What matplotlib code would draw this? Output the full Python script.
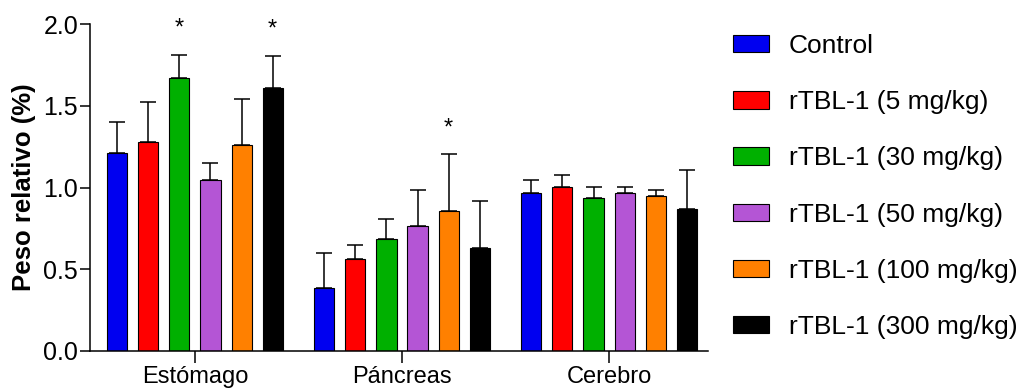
import matplotlib
matplotlib.use("Agg")
import matplotlib.pyplot as plt
import numpy as np

plt.rcParams['font.family'] = ['Liberation Sans', 'DejaVu Sans']

categories = ['Estómago', 'Páncreas', 'Cerebro']
series_labels = ['Control', 'rTBL-1 (5 mg/kg)', 'rTBL-1 (30 mg/kg)',
                 'rTBL-1 (50 mg/kg)', 'rTBL-1 (100 mg/kg)', 'rTBL-1 (300 mg/kg)']
colors = ['#0000F0', '#FF0000', '#00B000', '#B455D5', '#FF8000', '#000000']

control = [1.21, 0.385, 0.965]
tbl5 = [1.28, 0.563, 1.006]
tbl30 = [1.667, 0.687, 0.937]
tbl50 = [1.047, 0.765, 0.967]
tbl100 = [1.258, 0.857, 0.949]
tbl300 = [1.61, 0.632, 0.867]

control_sd = [0.19, 0.215, 0.08]
tbl5_sd = [0.24, 0.085, 0.072]
tbl30_sd = [0.143, 0.121, 0.065]
tbl50_sd = [0.103, 0.217, 0.035]
tbl100_sd = [0.282, 0.345, 0.037]
tbl300_sd = [0.196, 0.288, 0.241]

# (series index, category index) marked with *
significant = [(2, 0), (5, 0), (4, 1)]

yticks = [0.0, 0.5, 1.0, 1.5, 2.0]

means = [control, tbl5, tbl30, tbl50, tbl100, tbl300]
sds = [control_sd, tbl5_sd, tbl30_sd, tbl50_sd, tbl100_sd, tbl300_sd]

fig = plt.figure(figsize=(10.24, 3.92), dpi=100)
ax = fig.add_axes([90/1024, 1 - 351/392, 618/1024, 327/392])

xc = np.arange(len(categories))
step = 0.15
width = 0.097
lw = 1.1
for i, (m, s) in enumerate(zip(means, sds)):
    x = xc + (i - 2.5) * step
    ax.bar(x, m, width=width, color=colors[i], edgecolor='black', linewidth=0.8,
           label=series_labels[i], zorder=2)
    ax.errorbar(x, m, yerr=[np.zeros(len(m)), s], fmt='none', ecolor='black',
                elinewidth=lw, capsize=5.5, capthick=lw, zorder=3)

for si, ci in significant:
    x = xc[ci] + (si - 2.5) * step
    y = means[si][ci] + sds[si][ci] + 0.125
    ax.text(x, y, '*', ha='center', va='baseline', fontsize=17, clip_on=False)

ax.set_xlim(-0.507, 2.478)
ax.set_ylim(0, 2.0)
ax.set_yticks(yticks)
ax.set_yticklabels([f'{v:.1f}' for v in yticks])
ax.set_xticks(xc)
ax.set_xticklabels(categories)
for sp in ['top', 'right']:
    ax.spines[sp].set_visible(False)
for sp in ['left', 'bottom']:
    ax.spines[sp].set_linewidth(lw)
ax.tick_params(axis='y', length=7, width=lw, labelsize=18, pad=1.5)
ax.tick_params(axis='x', length=8.5, width=lw, labelsize=17, pad=2.5)
ax.set_ylabel('Peso relativo (%)', fontsize=18.5, fontweight='bold', labelpad=5)

ax.legend(loc='upper left', bbox_to_anchor=(733/1024, 1 - 34/392),
          bbox_transform=fig.transFigure, frameon=False, fontsize=19,
          handlelength=1.36, handleheight=0.64, handletextpad=0.76,
          labelspacing=1.22, borderpad=0, borderaxespad=0)

fig.savefig('out.png', dpi=100)
